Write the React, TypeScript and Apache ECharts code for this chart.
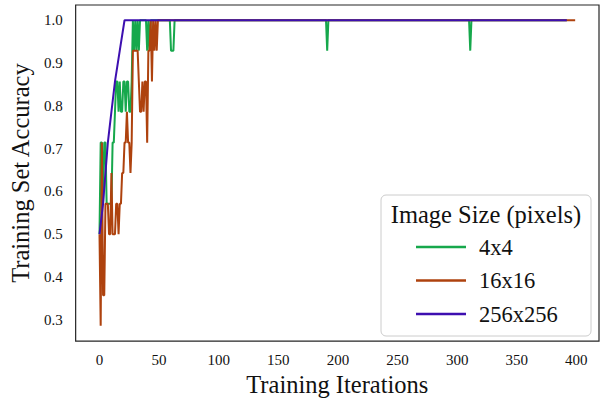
import React, { useEffect, useRef } from "react";
import * as echarts from "echarts";

// 4x4 images
const iters4x4 = [0,1,2,3,4,5,6,7,8,9,10,11,12,13,14,15,16,17,18,19,20,21,22,23,24,25,26,27,28,29,30,31,32,33,34,39,40,41,42,43,59,60,62,63,190,191,192,310,311,312,392];
const acc4x4 = [0.5,0.714,0.714,0.571,0.714,0.714,0.571,0.571,0.571,0.571,0.571,0.714,0.714,0.786,0.857,0.857,0.786,0.857,0.786,0.786,0.857,0.857,0.786,0.857,0.857,0.786,0.786,0.857,1.0,0.929,1.0,0.929,1.0,0.929,1.0,1.0,0.929,1.0,0.929,1.0,1.0,0.929,0.929,1.0,1.0,0.929,1.0,1.0,0.929,1.0,1.0];

// 16x16 images
const iters16x16 = [0,1,2,3,4,5,6,7,8,9,10,11,12,13,14,15,16,17,18,19,20,21,22,23,24,25,26,27,28,29,30,31,32,33,34,35,36,37,38,39,40,41,42,43,44,45,46,47,48,49,399];
const acc16x16 = [0.5,0.286,0.714,0.357,0.357,0.571,0.571,0.571,0.5,0.5,0.643,0.5,0.5,0.5,0.571,0.571,0.5,0.571,0.571,0.643,0.643,0.714,0.714,0.786,0.714,0.714,0.643,0.714,0.929,0.929,0.929,0.929,0.929,0.857,0.786,0.786,0.857,0.786,0.857,0.857,0.714,0.929,0.929,1.0,0.857,1.0,0.929,1.0,0.929,1.0,1.0];

// 256x256 images
const iters256x256 = [0,3,5,7,10,13,17,21,392];
const acc256x256 = [0.5,0.571,0.643,0.714,0.786,0.857,0.929,1.0,1.0];

const seriesNames = ["4x4", "16x16", "256x256"];
const seriesColors = ["#16a84c", "#ae420e", "#3d0fb0"];
const xTickValues = [0, 50, 100, 150, 200, 250, 300, 350, 400];
const yTickValues = [0.3, 0.4, 0.5, 0.6, 0.7, 0.8, 0.9, 1.0];

const FONT = '"Liberation Serif", "Times New Roman", serif';

const zip = (xs: number[], ys: number[]) => xs.map((x, i) => [x, ys[i]]);

export default function App() {
  const ref = useRef<HTMLDivElement>(null);
  useEffect(() => {
    if (!ref.current) return;
    const chart = echarts.init(ref.current, undefined, { renderer: "svg" });
    const datasets = [zip(iters4x4, acc4x4), zip(iters16x16, acc16x16), zip(iters256x256, acc256x256)];
    chart.setOption({
      animation: false,
      backgroundColor: "#ffffff",
      grid: {
        left: 75, top: 5, width: 525, height: 343,
        show: true, borderColor: "#262626", borderWidth: 1.2, backgroundColor: "transparent",
      },
      xAxis: {
        type: "value", min: -20, max: 419, interval: 10,
        axisLine: { show: false }, axisTick: { show: false }, splitLine: { show: false },
        axisLabel: {
          margin: 11, fontFamily: FONT, fontSize: 15, color: "#111",
          formatter: (v: number) => {
            const r = Math.round(v);
            return xTickValues.includes(r) ? String(r) : "";
          },
        },
        name: "Training Iterations", nameLocation: "middle", nameGap: 26,
        nameTextStyle: { fontFamily: FONT, fontSize: 24.5, color: "#111" },
      },
      yAxis: {
        type: "value", min: 0.25, max: 1.0357, interval: 0.05,
        axisLine: { show: false }, axisTick: { show: false }, splitLine: { show: false },
        axisLabel: {
          margin: 13, fontFamily: FONT, fontSize: 15, color: "#111",
          formatter: (v: number) => {
            const k = Math.round(v * 100);
            return yTickValues.some((t) => Math.round(t * 100) === k) ? (k / 100).toFixed(1) : "";
          },
        },
        name: "Training Set Accuracy", nameLocation: "middle", nameGap: 42,
        nameTextStyle: { fontFamily: FONT, fontSize: 24.5, color: "#111" },
      },
      legend: {
        orient: "vertical", left: 411, top: 230,
        itemWidth: 50, itemHeight: 2.5, icon: "rect", itemGap: 9.5,
        selectedMode: false,
        textStyle: { fontFamily: FONT, fontSize: 22.5, color: "#111", lineHeight: 24, padding: [0, 0, 0, 8] },
        data: seriesNames,
      },
      graphic: [
        {
          type: "rect", x: 381, y: 195, z: 3,
          shape: { x: 0, y: 0, width: 210, height: 141, r: 5 },
          style: { fill: "rgba(255,255,255,0.85)", stroke: "#cccccc", lineWidth: 1 },
        },
        {
          type: "text", x: 486, y: 214, z: 4,
          style: {
            text: "Image Size (pixels)", x: 0, y: 0, textAlign: "center", textVerticalAlign: "middle",
            font: `24.5px ${FONT}`, fill: "#111",
          },
        },
      ],
      series: seriesNames.map((name, i) => ({
        name, type: "line", data: datasets[i], showSymbol: false, symbol: "none",
        color: seriesColors[i],
        lineStyle: { width: 2, color: seriesColors[i] },
        z: 2 + i,
      })),
    });
    return () => chart.dispose();
  }, []);
  return <div ref={ref} style={{ position: "fixed", left: 0, top: 0, width: 602, height: 402 }} />;
}
